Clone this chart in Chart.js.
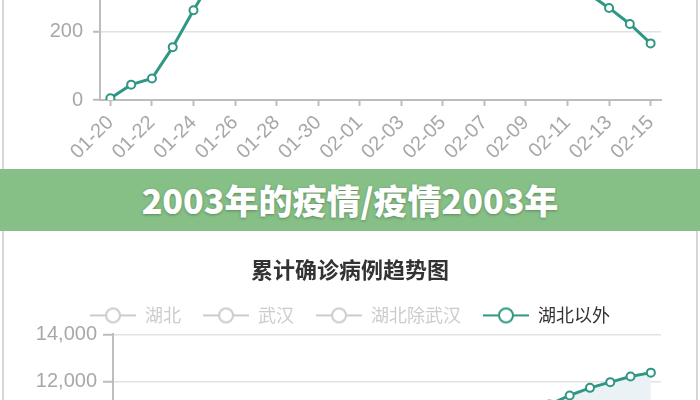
<!DOCTYPE html>
<html>
<head>
<meta charset="utf-8">
<script src="https://cdn.jsdelivr.net/npm/chart.js@4.4.1/dist/chart.umd.min.js"></script>
<style>
  html, body { margin: 0; padding: 0; background: #fff; }
  body { width: 700px; height: 400px; position: relative; overflow: hidden; }
  .wrap { position: absolute; left: 0; width: 700px; }
  .edge { position: absolute; width: 2px; background: #d6d6d6; }
  #banner {
    position: absolute; left: 0; top: 169px; width: 700px; height: 62px;
    background: #87c087; color: #fff; text-align: center;
    font: 900 34px 'Noto Sans CJK SC', sans-serif; line-height: 62px;
    text-shadow: 0 1px 3px rgba(40, 70, 40, 0.45);
  }
</style>
</head>
<body>
<div class="edge" style="left:2px; top:0; height:169px;"></div>
<div class="edge" style="left:696px; top:0; height:169px;"></div>
<div class="wrap" style="top:-270px; height:440px;"><canvas id="top-chart"></canvas></div>

<div class="edge" style="left:2px; top:231px; height:169px;"></div>
<div class="edge" style="left:696px; top:231px; height:169px;"></div>
<div class="wrap" style="top:231px; height:506px;"><canvas id="bottom-chart"></canvas></div>

<div id="banner">2003年的疫情/疫情2003年</div>

<script>
const DATES = ['01-20', '01-21', '01-22', '01-23', '01-24', '01-25', '01-26', '01-27', '01-28',
  '01-29', '01-30', '01-31', '02-01', '02-02', '02-03', '02-04', '02-05', '02-06', '02-07',
  '02-08', '02-09', '02-10', '02-11', '02-12', '02-13', '02-14', '02-15'];

// daily new confirmed outside Hubei (top chart)
const NEW_OUTSIDE = [5, 45, 63, 155, 263, 365, 457, 516, 760, 740, 856, 869, 731, 865,
  890, 731, 707, 696, 558, 509, 444, 381, 377, 312, 270, 223, 166];

// cumulative confirmed (bottom chart)
const CUM_HUBEI = [270, 375, 444, 549, 729, 1052, 1423, 2714, 3554, 4586, 5806, 7153, 9074,
  11177, 13522, 16678, 19665, 22112, 24953, 27100, 29631, 31728, 33366, 48206, 51986, 54406, 56249];
const CUM_WUHAN = [258, 363, 425, 495, 572, 618, 698, 1590, 1905, 2261, 2639, 3215, 4109,
  5142, 6384, 8351, 10117, 11618, 13603, 14982, 16902, 18454, 19558, 32994, 35991, 37914, 39462];
const CUM_HUBEI_EXCL_WUHAN = [12, 12, 19, 54, 157, 434, 725, 1124, 1649, 2325, 3167, 3938, 4965,
  6035, 7138, 8327, 9548, 10494, 11350, 12118, 12729, 13274, 13808, 15212, 15995, 16492, 16787];
const CUM_OUTSIDE = [21, 65, 127, 281, 558, 923, 1321, 1801, 2420, 3125, 3886, 4638, 5306,
  6028, 6916, 7646, 8353, 9049, 9593, 10098, 10540, 11050, 11430, 11750, 11990, 12230, 12390];

const SERIES_NAMES = ['湖北', '武汉', '湖北除武汉', '湖北以外'];
const TOP_Y_TICKS = [0, 200, 400, 600, 800, 1000];
const BOTTOM_Y_TICKS = [0, 2000, 4000, 6000, 8000, 10000, 12000, 14000];

const TEAL = '#2f9783';
const MUTED = '#cccccc';
const AXIS = '#bdbdbd';
const GRID = '#e2e2e2';
const LABEL = '#a8a8a8';

Chart.defaults.font.family = "'Liberation Sans', 'Noto Sans CJK SC', sans-serif";
Chart.defaults.animation = false;

function legendIcon(color) {
  const c = document.createElement('canvas');
  c.width = 46;
  c.height = 18;
  const g = c.getContext('2d');
  g.strokeStyle = color;
  g.lineWidth = 2;
  g.beginPath();
  g.moveTo(0, 9);
  g.lineTo(46, 9);
  g.stroke();
  g.beginPath();
  g.arc(23, 9, 7, 0, Math.PI * 2);
  g.fillStyle = '#fff';
  g.fill();
  g.stroke();
  return c;
}

function lineDataset(label, data, extra) {
  return Object.assign({
    label,
    data,
    borderColor: TEAL,
    borderWidth: 3,
    pointRadius: 4,
    pointBorderWidth: 2,
    pointBackgroundColor: '#fff',
    pointBorderColor: TEAL,
    tension: 0,
  }, extra || {});
}

function xScale() {
  return {
    type: 'category',
    offset: true,
    grid: { drawOnChartArea: false, tickLength: 6, tickColor: AXIS, tickWidth: 2 },
    border: { color: AXIS, width: 2 },
    ticks: {
      autoSkip: false,
      minRotation: 45,
      maxRotation: 45,
      color: LABEL,
      font: { size: 20 },
      padding: 5,
      callback(value, index) {
        return index % 2 === 0 ? this.getLabelForValue(value) : null;
      },
    },
    afterFit(scale) { scale.height = 70; },
  };
}

function yScale(ticks, width, tickLen, pad) {
  return {
    min: ticks[0],
    max: ticks[ticks.length - 1],
    afterBuildTicks(scale) { scale.ticks = ticks.map(v => ({ value: v })); },
    grid: { color: GRID, lineWidth: 1.5, tickLength: tickLen, tickColor: AXIS, tickWidth: 2 },
    border: { color: AXIS, width: 2 },
    ticks: { color: LABEL, font: { size: 20 }, padding: pad },
    afterFit(scale) { scale.width = width; },
  };
}

// empty right-hand axis that only reserves space, so title and legend stay centred on the page
const spacer = {
  position: 'right',
  display: true,
  grid: { display: false, drawTicks: false },
  border: { display: false },
  ticks: { display: false },
  afterFit(scale) { scale.width = 39; },
};

new Chart(document.getElementById('top-chart'), {
  type: 'line',
  data: {
    labels: DATES,
    datasets: [lineDataset('湖北以外', NEW_OUTSIDE)],
  },
  options: {
    responsive: true,
    maintainAspectRatio: false,
    layout: { padding: { top: 29, right: 0, left: 0, bottom: 0 } },
    plugins: { legend: { display: false }, tooltip: { enabled: false } },
    scales: {
      x: xScale(),
      y: yScale(TOP_Y_TICKS, 100, 7, 10),
      pad: spacer,
    },
  },
});

new Chart(document.getElementById('bottom-chart'), {
  type: 'line',
  data: {
    labels: DATES,
    datasets: [
      lineDataset(SERIES_NAMES[0], CUM_HUBEI, { hidden: true }),
      lineDataset(SERIES_NAMES[1], CUM_WUHAN, { hidden: true }),
      lineDataset(SERIES_NAMES[2], CUM_HUBEI_EXCL_WUHAN, { hidden: true }),
      lineDataset(SERIES_NAMES[3], CUM_OUTSIDE, { fill: 'origin', backgroundColor: '#ebf2f5' }),
    ],
  },
  options: {
    responsive: true,
    maintainAspectRatio: false,
    layout: { padding: 0 },
    plugins: {
      tooltip: { enabled: false },
      title: {
        display: true,
        text: '累计确诊病例趋势图',
        color: '#333',
        font: { family: "'Noto Sans CJK SC', sans-serif", size: 22, weight: 'bold' },
        padding: { top: 25, bottom: 2 },
      },
      legend: {
        display: true,
        labels: {
          usePointStyle: true,
          pointStyleWidth: 46,
          padding: 22,
          font: { family: "'Noto Sans CJK SC', sans-serif", size: 18 },
          generateLabels(chart) {
            return chart.data.datasets.map((ds, i) => {
              const on = chart.isDatasetVisible(i);
              return {
                text: ds.label,
                datasetIndex: i,
                hidden: false,
                fontColor: on ? '#333' : MUTED,
                pointStyle: legendIcon(on ? TEAL : MUTED),
                fillStyle: 'rgba(0,0,0,0)',
                strokeStyle: 'rgba(0,0,0,0)',
                lineWidth: 0,
              };
            });
          },
        },
      },
    },
    scales: {
      x: xScale(),
      y: yScale(BOTTOM_Y_TICKS, 113, 10, 6),
      pad: spacer,
    },
  },
});
</script>
</body>
</html>
